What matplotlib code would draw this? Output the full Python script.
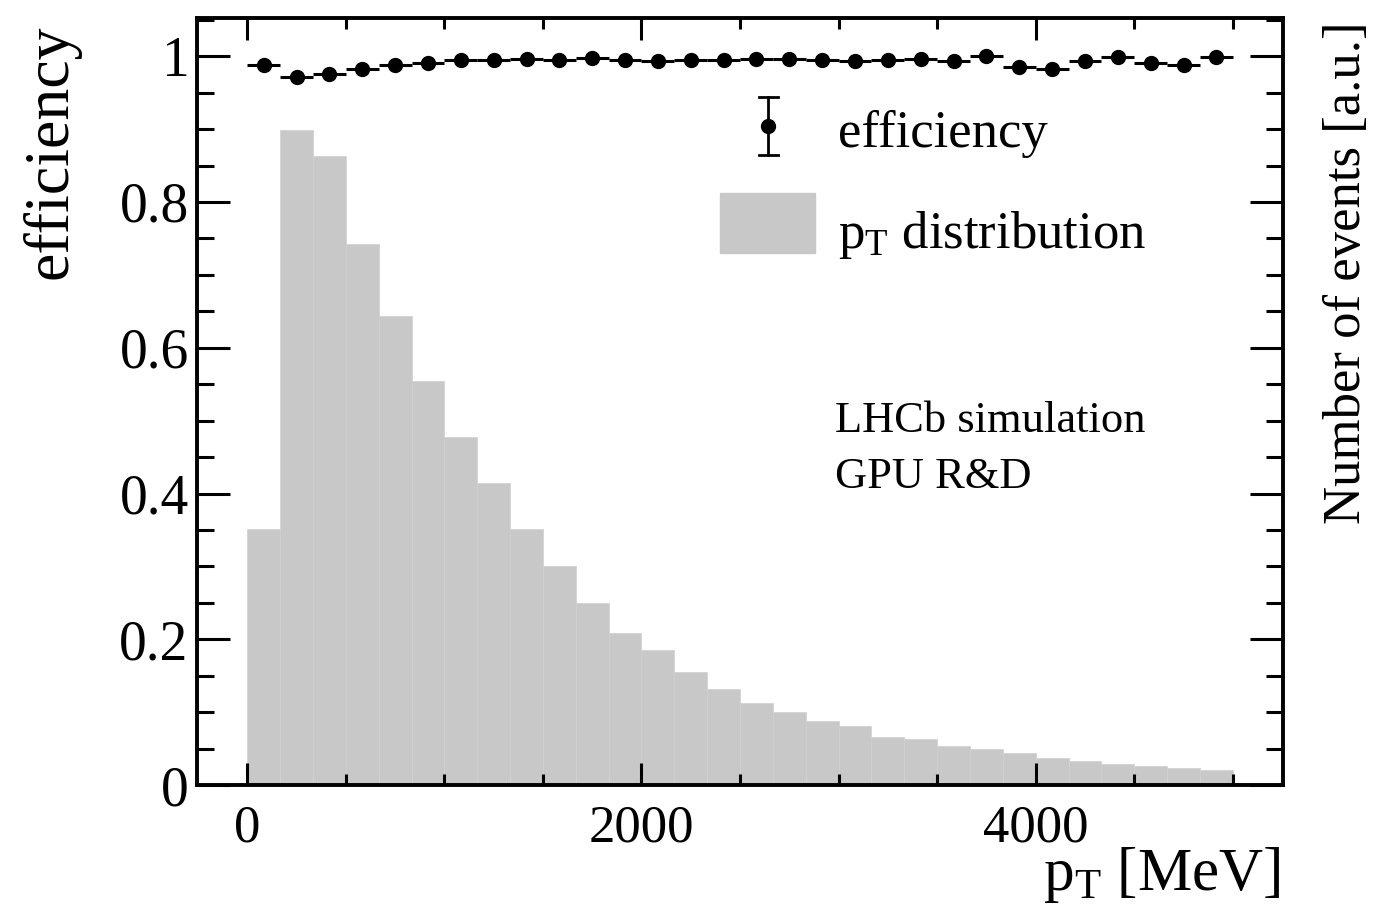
import matplotlib
matplotlib.use('Agg')
import matplotlib.pyplot as plt
from matplotlib.ticker import MultipleLocator
from matplotlib.patches import Rectangle
from matplotlib.lines import Line2D
import numpy as np

# ROOT-like serif look
plt.rcParams['font.family'] = 'Liberation Serif'
plt.rcParams['mathtext.fontset'] = 'custom'
plt.rcParams['mathtext.rm'] = 'Liberation Serif'
plt.rcParams['mathtext.it'] = 'Liberation Serif:italic'

# binning in pT [MeV]
pt_min, pt_max, n_bins = 0, 5000, 30

# pT distribution (arbitrary units, scaled onto the efficiency axis)
pt_counts = [0.352, 0.899, 0.863, 0.742, 0.643, 0.555, 0.477, 0.414, 0.351, 0.300,
             0.250, 0.209, 0.185, 0.155, 0.132, 0.113, 0.100, 0.088, 0.081, 0.066,
             0.063, 0.053, 0.049, 0.044, 0.037, 0.033, 0.029, 0.026, 0.024, 0.021]

# efficiency per bin
efficiency = [0.988, 0.972, 0.975, 0.982, 0.988, 0.991, 0.995, 0.995, 0.996, 0.995,
              0.997, 0.995, 0.993, 0.995, 0.995, 0.996, 0.996, 0.995, 0.993, 0.995,
              0.996, 0.994, 1.000, 0.985, 0.983, 0.993, 0.999, 0.990, 0.988, 0.999]
eff_err = [0.003, 0.002, 0.002, 0.002, 0.002, 0.002, 0.002, 0.002, 0.002, 0.002,
           0.002, 0.002, 0.002, 0.002, 0.002, 0.002, 0.002, 0.002, 0.002, 0.002,
           0.002, 0.002, 0.002, 0.003, 0.003, 0.003, 0.002, 0.003, 0.003, 0.002]

edges = np.linspace(pt_min, pt_max, n_bins + 1)
centers = 0.5 * (edges[:-1] + edges[1:])
width = edges[1] - edges[0]

fig = plt.figure(figsize=(13.73, 9.15), dpi=100)
ax = fig.add_axes([0.1435, 0.142, 0.791, 0.838])

ax.bar(edges[:-1], pt_counts, width=width, align='edge',
       color='#c8c8c8', edgecolor='#d0d0d0', linewidth=0.5, zorder=1)
ax.errorbar(centers, efficiency, xerr=width / 2, yerr=eff_err, fmt='o',
            color='black', ms=10, elinewidth=2.2, capsize=0, zorder=3)

ax.set_xlim(-255, 5255)
ax.set_ylim(0, 1.052)

# axis frame and ticks
for sp in ax.spines.values():
    sp.set_linewidth(2.8)
ax.xaxis.set_major_locator(MultipleLocator(2000))
ax.xaxis.set_minor_locator(MultipleLocator(500))
ax.yaxis.set_major_locator(MultipleLocator(0.2))
ax.yaxis.set_minor_locator(MultipleLocator(0.05))
ax.yaxis.set_major_formatter(plt.FuncFormatter(lambda v, p: '%g' % round(v, 2)))
ax.tick_params(which='both', direction='in', top=True, right=True, width=2.2)
ax.tick_params(axis='y', which='major', length=24, labelsize=40, pad=6)
ax.tick_params(axis='y', which='minor', length=12)
ax.tick_params(axis='x', which='major', length=16, labelsize=38, pad=14)
ax.tick_params(axis='x', which='minor', length=8)

# axis titles
fig.text(0.037, 0.973, 'efficiency', rotation=90, va='top', ha='center', size=46)
fig.text(0.981, 0.977, 'Number of events [a.u.]', rotation=90, va='top',
         ha='center', size=38)
fig.text(0.933, 0.027, r'$\mathrm{p}_{\mathrm{T}}$ [MeV]', ha='right',
         va='baseline', size=44)

# legend
tr = ax.transAxes
ax.add_line(Line2D([0.526, 0.526], [0.822, 0.898], color='black', lw=2, transform=tr))
for yc in (0.822, 0.898):
    ax.add_line(Line2D([0.517, 0.535], [yc, yc], color='black', lw=2, transform=tr))
ax.add_line(Line2D([0.526], [0.860], marker='o', ms=10, color='black', transform=tr))
ax.add_patch(Rectangle((0.4816, 0.6936), 0.0874, 0.0782, color='#c8c8c8',
                       transform=tr, zorder=2))
ax.text(0.590, 0.832, 'efficiency', transform=tr, size=38, va='baseline')
ax.text(0.590, 0.700, r'$\mathrm{p}_{\mathrm{T}}$ distribution', transform=tr,
        size=38, va='baseline')

ax.text(0.5875, 0.460, 'LHCb simulation', transform=tr, size=32, va='baseline')
ax.text(0.5875, 0.387, 'GPU R&D', transform=tr, size=32, va='baseline')

fig.savefig('out.png', dpi=100, facecolor='white')
